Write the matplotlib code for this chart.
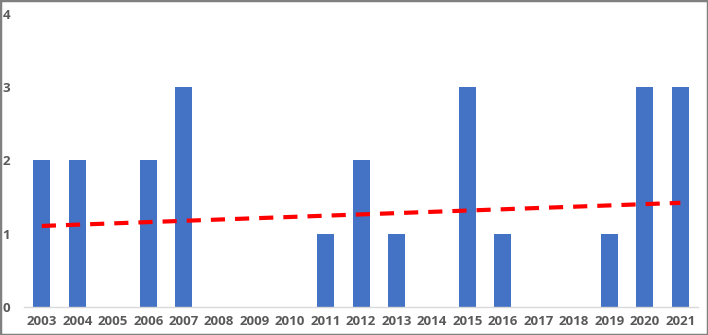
import matplotlib.pyplot as plt
import numpy as np
from matplotlib.patches import Rectangle

years = [2003, 2004, 2005, 2006, 2007, 2008, 2009, 2010, 2011, 2012,
         2013, 2014, 2015, 2016, 2017, 2018, 2019, 2020, 2021]
counts = [2, 2, 0, 2, 3, 0, 0, 0, 1, 2, 1, 0, 3, 1, 0, 0, 1, 3, 3]

fig = plt.figure(figsize=(7.08, 3.35), dpi=100)
ax = fig.add_axes([0.034, 0.084, 0.952, 0.874])

x = np.arange(len(years))
ax.bar(x, counts, width=0.48, color='#4472C4', zorder=2)

# linear trendline
slope, intercept = np.polyfit(x, counts, 1)
ax.plot(x, slope * x + intercept, color='#FF0000', lw=3,
        linestyle=(0, (3.4, 2.4)), zorder=3)

ax.set_xlim(-0.5, len(years) - 0.5)
ax.set_ylim(0, 4)
ax.set_yticks([0, 1, 2, 3, 4])
ax.set_xticks(x)
ax.set_xticklabels([str(y) for y in years])

for s in ['top', 'right', 'left']:
    ax.spines[s].set_visible(False)
ax.spines['bottom'].set_color('#D9D9D9')
ax.spines['bottom'].set_linewidth(1)
ax.tick_params(length=0, colors='#595959', labelsize=9.5)
ax.tick_params(axis='y', pad=10)
ax.tick_params(axis='x', pad=6)
for lbl in ax.get_xticklabels() + ax.get_yticklabels():
    lbl.set_fontweight('bold')
    lbl.set_family(['Open Sans', 'DejaVu Sans'])

fig.patches.append(Rectangle((0, 0), 1, 1, transform=fig.transFigure,
                             fill=False, edgecolor='#808080', lw=2.5))

fig.savefig('out.png', dpi=100)
